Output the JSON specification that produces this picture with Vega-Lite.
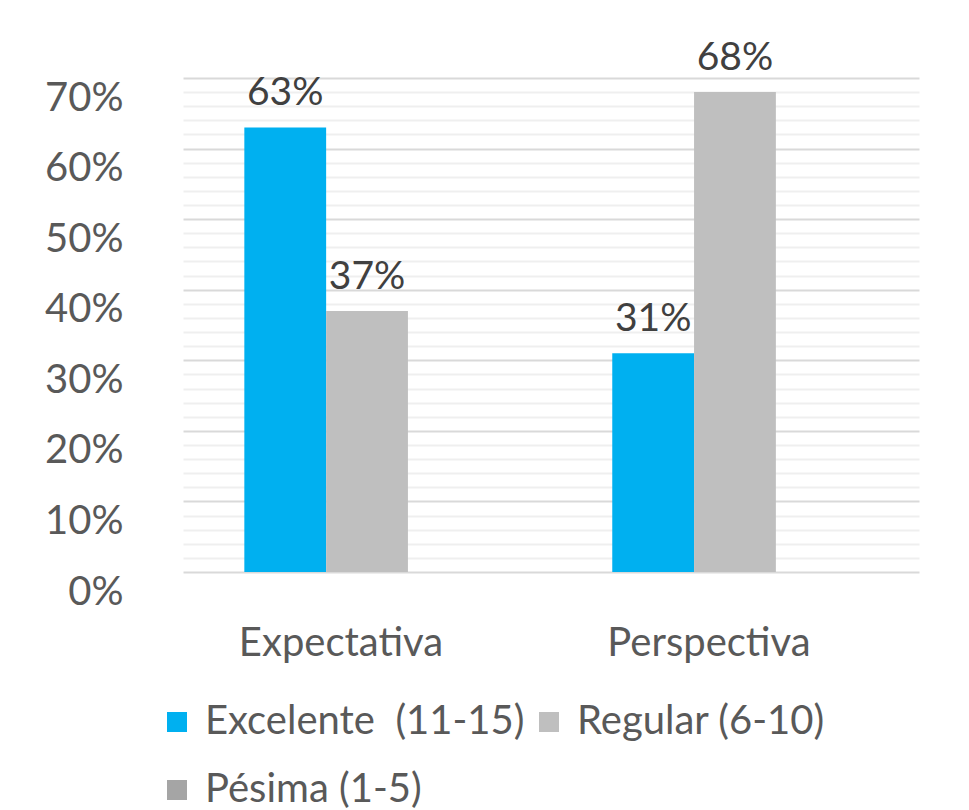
{
  "$schema": "https://vega.github.io/schema/vega-lite/v6.json",
  "width": 736,
  "height": 494,
  "autosize": {"type": "none"},
  "padding": {"left": 183, "top": 78, "right": 50, "bottom": 238},
  "background": "white",
  "config": {
    "view": {"stroke": null},
    "font": "Lato",
    "text": {"font": "Lato"}
  },
  "data": {
    "values": [
      {"categoria": "Expectativa", "nivel": "Excelente  (11-15)", "valor": 0.63},
      {"categoria": "Expectativa", "nivel": "Regular (6-10)", "valor": 0.37},
      {"categoria": "Expectativa", "nivel": "Pésima (1-5)", "valor": 0},
      {"categoria": "Perspectiva", "nivel": "Excelente  (11-15)", "valor": 0.31},
      {"categoria": "Perspectiva", "nivel": "Regular (6-10)", "valor": 0.68},
      {"categoria": "Perspectiva", "nivel": "Pésima (1-5)", "valor": 0}
    ]
  },
  "encoding": {
    "x": {
      "field": "categoria",
      "type": "nominal",
      "sort": ["Expectativa", "Perspectiva"],
      "scale": {"paddingInner": 0.333, "paddingOuter": 0.1667},
      "axis": {
        "title": null,
        "labelAngle": 0,
        "labelFontSize": 40,
        "labelColor": "#595959",
        "labelPadding": 51,
        "labelOffset": -26,
        "labelLimit": 500,
        "domain": false,
        "ticks": false
      }
    },
    "xOffset": {
      "field": "nivel",
      "type": "nominal",
      "sort": ["Excelente  (11-15)", "Regular (6-10)", "Pésima (1-5)"],
      "scale": {"paddingInner": 0, "paddingOuter": 0}
    },
    "y": {
      "field": "valor",
      "type": "quantitative",
      "scale": {"domain": [0, 0.7], "nice": false},
      "axis": {
        "title": null,
        "values": [0, 0.02, 0.04, 0.06, 0.08, 0.1, 0.12, 0.14, 0.16, 0.18, 0.2, 0.22, 0.24, 0.26, 0.28, 0.3, 0.32, 0.34, 0.36, 0.38, 0.4, 0.42, 0.44, 0.46, 0.48, 0.5, 0.52, 0.54, 0.56, 0.58, 0.6, 0.62, 0.64, 0.66, 0.68, 0.7],
        "labelExpr": "round(datum.value * 100) % 10 === 0 ? format(datum.value, '.0%') : ''",
        "labelFontSize": 40,
        "labelColor": "#595959",
        "labelPadding": 60,
        "labelOffset": 20,
        "labelBaseline": "middle",
        "domain": false,
        "ticks": false,
        "grid": true,
        "gridColor": {"condition": {"test": "round(datum.value * 100) % 10 === 0", "value": "#D9D9D9"}, "value": "#EFEFEF"},
        "gridWidth": 2
      }
    }
  },
  "layer": [
    {
      "mark": {"type": "bar"},
      "encoding": {
        "color": {
          "field": "nivel",
          "type": "nominal",
          "sort": ["Excelente  (11-15)", "Regular (6-10)", "Pésima (1-5)"],
          "scale": {
            "domain": ["Excelente  (11-15)", "Regular (6-10)", "Pésima (1-5)"],
            "range": ["#00B0F0", "#BFBFBF", "#A5A5A5"]
          },
          "legend": {
            "title": null,
            "orient": "none",
            "legendX": -26,
            "legendY": 624,
            "direction": "horizontal",
            "columns": 2,
            "columnPadding": 4,
            "rowPadding": 28,
            "symbolType": "square",
            "symbolSize": 400,
            "symbolStrokeWidth": 0,
            "symbolOpacity": 1,
            "labelFontSize": 40,
            "labelColor": "#595959",
            "labelOffset": 8,
            "labelLimit": 500,
            "labelExpr": "replace(datum.label, '  ', '\u00a0 ')"
          }
        }
      }
    },
    {
      "transform": [{"filter": "datum.valor > 0"}],
      "mark": {"type": "text", "baseline": "alphabetic", "dy": -22, "fontSize": 39, "color": "#404040"},
      "encoding": {
        "text": {"field": "valor", "type": "quantitative", "format": ".0%"}
      }
    }
  ]
}
